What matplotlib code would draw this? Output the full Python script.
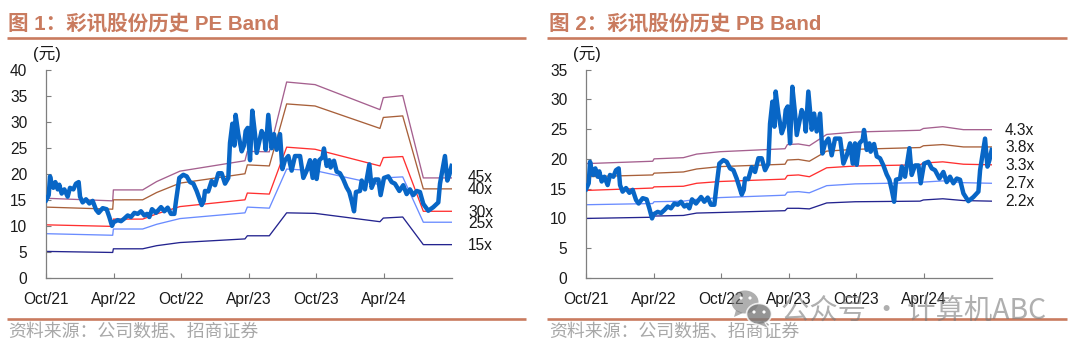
import matplotlib
matplotlib.use("Agg")
import matplotlib.pyplot as plt
from matplotlib.patches import Ellipse, Polygon, Circle

W, H = 1080, 353
CJK = ['Liberation Sans', 'Noto Sans CJK SC', 'DejaVu Sans']
plt.rcParams['font.family'] = CJK

tick_labels = ['Oct/21', 'Apr/22', 'Oct/22', 'Apr/23', 'Oct/23', 'Apr/24']
tick_months = [0, 6, 12, 18, 24, 30]

price_m = [0, .24, .36, .5, .65, .83, 1.04, 1.18, 1.39, 1.63, 1.92, 2.13, 2.43, 2.66, 2.9, 3.02, 3.25, 3.55, 3.85, 4.14,
           4.44, 4.67, 5.03, 5.38, 5.62, 5.86, 6.0, 6.36, 6.66, 6.95, 7.25, 7.54, 7.84, 8.14, 8.43, 8.73, 8.96, 9.17,
           9.41, 9.76, 10.21, 10.5, 10.8, 11.09, 11.39, 11.54, 11.83, 12.19, 12.49, 12.78, 13.08, 13.37, 13.82, 14.0,
           14.11, 14.4, 14.7, 15.0, 15.3, 15.59, 15.89, 16.18, 16.33, 16.54, 16.72, 16.83, 17.07, 17.37, 17.57, 17.72,
           17.9, 18.11, 18.31, 18.55, 18.7, 18.91, 19.14, 19.38, 19.5, 19.73, 20.03, 20.24, 20.47, 20.77, 20.98, 21.21,
           21.51, 21.8, 22.1, 22.55, 22.84, 23.14, 23.43, 23.67, 23.87, 24.02, 24.26, 24.55, 24.67, 24.91, 25.15, 25.26,
           25.56, 25.8, 26.09, 26.39, 26.68, 26.92, 27.13, 27.34, 27.51, 27.87, 28.02, 28.31, 28.7, 28.9, 29.2, 29.5,
           29.7, 30.0, 30.38, 30.68, 30.97, 31.36, 31.71, 32.01, 32.3, 32.6, 32.9, 33.19, 33.49, 33.93, 34.38, 34.82,
           34.97, 35.41, 35.62, 35.8, 36]
price = [14.9, 15.9, 19.5, 18.1, 17.3, 18.4, 17.0, 17.9, 16.2, 17.0, 15.6, 17.3, 17.0, 18.1, 18.4, 15.6, 14.5, 15.1, 14.3, 14.8,
         13.1, 12.5, 13.4, 13.2, 11.7, 10.0, 10.7, 11.1, 10.9, 11.4, 12.0, 11.7, 12.5, 12.3, 12.8, 12.0, 12.3, 11.7,
         13.2, 12.5, 13.6, 12.8, 13.5, 12.3, 12.3, 14.8, 19.2, 19.8, 19.5, 18.4, 18.1, 16.7, 14.0, 14.8,
         16.7, 16.6, 18.6, 17.8, 20.1, 20.1, 18.1, 19.2, 25.9, 29.6, 25.4, 31.3, 27.6, 24.3, 25.4, 28.2,
         28.8, 22.6, 32.1, 27.6, 24.0, 26.0, 28.2, 27.1, 24.6, 31.3, 24.9, 27.6, 24.6, 27.6, 20.9, 22.6,
         23.4, 20.6, 23.4, 23.4, 19.2, 20.6, 22.6, 19.2, 22.6, 19.0, 22.6, 23.2, 24.85, 21.5, 22.6, 21.2,
         22.5, 20.4, 20.1, 18.9, 17.4, 16.5, 14.8, 12.8, 16.5, 16.7, 18.7, 17.0, 21.8, 17.3, 18.9, 18.9,
         15.9, 19.2, 19.5, 18.4, 18.1, 16.7, 17.8, 16.1, 17.0, 15.9, 16.7, 16.5, 14.2, 12.9, 13.6, 14.5,
         18.1, 23.4, 18.7, 19.8, 21.5]

pe_m = [0, 5.92, 5.98, 8.58, 9.82, 11.89, 17.66, 17.87, 19.82, 21.36, 23.88, 29.64, 29.94, 31.66, 33.49, 36]
pe_45 = [15.3, 14.8, 16.9, 16.9, 18.5, 20.5, 22.5, 24.3, 24.2, 37.6, 37.1, 32.3, 34.6, 35.0, 19.2, 19.2]
pe_40 = [13.6, 13.2, 15.0, 15.0, 16.4, 18.2, 20.0, 21.7, 21.5, 33.4, 33.0, 28.7, 30.8, 31.1, 17.1, 17.1]
pe_30 = [10.2, 9.9, 11.3, 11.3, 12.3, 13.7, 15.0, 16.3, 16.1, 25.1, 24.7, 21.5, 23.1, 23.3, 12.8, 12.8]
pe_25 = [8.5, 8.2, 9.4, 9.4, 10.3, 11.4, 12.5, 13.6, 13.4, 20.9, 20.6, 17.9, 19.2, 19.4, 10.7, 10.7]
pe_15 = [5.1, 4.9, 5.6, 5.6, 6.2, 6.8, 7.5, 8.1, 8.1, 12.5, 12.4, 10.8, 11.5, 11.7, 6.4, 6.4]

pb_m = [0, 5.92, 6.04, 8.64, 9.82, 11.89, 17.66, 17.87, 18.85, 19.82, 21.36, 23.88, 29.64, 29.94, 31.66, 33.49, 36]
pb_43 = [19.2, 19.6, 20.0, 20.2, 20.8, 21.2, 21.7, 22.4, 22.5, 22.2, 24.1, 24.5, 24.8, 25.1, 25.4, 24.9, 24.9]
pb_38 = [17.0, 17.3, 17.6, 17.8, 18.3, 18.7, 19.1, 19.8, 19.9, 19.6, 21.3, 21.6, 21.9, 22.2, 22.4, 22.0, 22.0]
pb_33 = [14.7, 15.1, 15.3, 15.4, 15.9, 16.2, 16.6, 17.2, 17.3, 17.0, 18.5, 18.8, 19.0, 19.3, 19.5, 19.1, 19.0]
pb_27 = [12.3, 12.5, 12.8, 12.9, 13.2, 13.5, 13.9, 14.4, 14.5, 14.3, 15.5, 15.8, 16.0, 16.1, 16.3, 16.0, 15.9]
pb_22 = [10.0, 10.2, 10.4, 10.5, 10.9, 11.0, 11.3, 11.7, 11.7, 11.6, 12.6, 12.8, 12.9, 13.1, 13.3, 13.0, 12.9]

pe_bands = [pe_45, pe_40, pe_30, pe_25, pe_15]
pb_bands = [pb_43, pb_38, pb_33, pb_27, pb_22]
pe_labels = ['45x', '40x', '30x', '25x', '15x']
pb_labels = ['4.3x', '3.8x', '3.3x', '2.7x', '2.2x']

title_1 = '图 1\uff1a彩讯股份历史 PE Band'
title_2 = '图 2\uff1a彩讯股份历史 PB Band'
source = '资料来源\uff1a公司数据、招商证券'

band_colors = ['#A5608F', '#A8603A', '#FF3030', '#6A8CFF', '#24248F']
PRICE = '#0866C6'
RULE = '#C97B5F'
TEXT = '#1A1A1A'

fig = plt.figure(figsize=(W / 100, H / 100), dpi=100)


def fx(px):
    return px / W


def fy(py):
    return 1 - py / H


def panel(left, right, ymax, step, bands, band_x, labels, label_x, label_y, title, rule_l, rule_r, title_x):
    ax = fig.add_axes([fx(left), fy(278), (right - left) / W, (278 - 69.5) / H])
    for vals, col in zip(bands, band_colors):
        ax.plot(band_x, vals, color=col, lw=0.95, zorder=2)
    ax.plot(price_m, price, color=PRICE, lw=3.2, solid_joinstyle='round', zorder=3)
    ax.set_xlim(0, 36)
    ax.set_ylim(0, ymax)
    ax.set_yticks(range(0, ymax + 1, step))
    ax.set_xticks(tick_months)
    ax.set_xticklabels(tick_labels)
    ax.tick_params(axis='both', direction='in', length=3.4, width=0.8, color='#7F7F7F',
                   labelsize=11.2, labelcolor=TEXT)
    ax.tick_params(axis='y', pad=13.5)
    ax.tick_params(axis='x', pad=10)
    for s in ('top', 'right'):
        ax.spines[s].set_visible(False)
    for s in ('left', 'bottom'):
        ax.spines[s].set_color('#7F7F7F')
        ax.spines[s].set_linewidth(0.9)
    ax.patch.set_alpha(0)
    for lab, y in zip(labels, label_y):
        fig.text(fx(label_x), fy(y), lab, fontsize=11.2, color=TEXT, va='center', ha='left')
    fig.text(fx(left - 13), fy(53.5), '(元)', fontsize=12, color=TEXT, va='center', ha='left')
    fig.text(fx(title_x), fy(24), title, fontsize=14.8, fontweight='bold', color=RULE, va='center', ha='left')
    for y in (38, 319.3):
        fig.add_artist(plt.Line2D([fx(rule_l), fx(rule_r)], [fy(y), fy(y)], color=RULE, lw=1.9,
                                  solid_capstyle='butt'))
    fig.text(fx(title_x), fy(332), source, fontsize=12.9, color='#A8A8A8', va='center', ha='left')


panel(46, 451.6, 40, 5, pe_bands, pe_m, pe_labels, 468, [178, 190, 212, 223, 245.6],
      title_1, 7, 526, 8)
panel(586, 991.7, 35, 5, pb_bands, pb_m, pb_labels, 1005, [130, 147, 165.7, 184, 202],
      title_2, 547, 1067, 549)

# watermark
GREY = '#7A7A7A'
ov = fig.add_axes([0, 0, 1, 1], zorder=10)
ov.set_xlim(0, W)
ov.set_ylim(H, 0)
ov.axis('off')
ov.add_patch(Ellipse((745, 302), 27, 23, color=GREY, alpha=0.6, lw=0))
ov.add_patch(Polygon([(736, 310), (734, 317), (743, 313)], closed=True, color=GREY, alpha=0.6, lw=0))
ov.add_patch(Ellipse((759, 314), 25, 21, facecolor=GREY, edgecolor='white', lw=1.2, alpha=0.8))
ov.add_patch(Polygon([(763, 321), (768, 328), (757, 323)], closed=True, color=GREY, alpha=0.6, lw=0))
for c in [(741, 298), (750, 298), (754, 312), (764, 312)]:
    ov.add_patch(Circle(c, 1.6, color='white', lw=0))
fig.text(fx(781), fy(311), '公众号 · 计算机ABC', fontsize=20.4, color=GREY, alpha=0.6,
         va='center', ha='left', family=['Noto Sans CJK SC', 'DejaVu Sans'], zorder=11)

fig.savefig('out.png', dpi=100)
